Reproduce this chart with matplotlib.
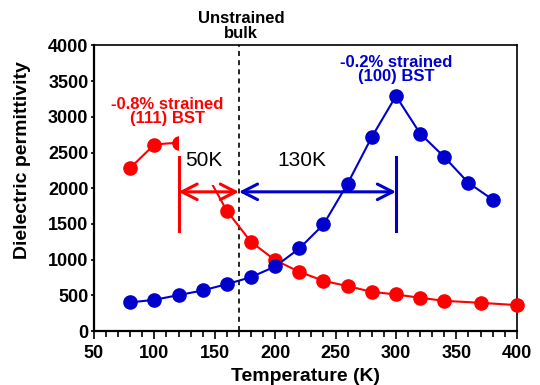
import matplotlib.pyplot as plt
from matplotlib.patches import Rectangle
from matplotlib.ticker import MultipleLocator

plt.rcParams['font.family'] = ['Liberation Sans', 'DejaVu Sans']

RED = '#ff0000'
BLUE = '#0000cc'

# (111) BST film, -0.8% strain
temp_111 = [80, 100, 120, 140, 160, 180, 200, 220, 240, 260, 280, 300, 320, 340, 370, 400]
eps_111 = [2285, 2612, 2640, 2300, 1683, 1249, 993, 830, 704, 630, 550, 513, 466, 424, 396, 364]

# (100) BST film, -0.2% strain
temp_100 = [80, 100, 120, 140, 160, 180, 200, 220, 240, 260, 280, 300, 320, 340, 360, 380]
eps_100 = [402, 438, 504, 569, 658, 755, 905, 1157, 1493, 2066, 2718, 3292, 2766, 2438, 2075, 1842]

# peak shifts relative to the bulk transition
t_bulk = 170
shift_111 = 50
shift_100 = 130
arrow_y = 1950
bar_lo, bar_hi = 1400, 2440

fig = plt.figure(figsize=(5.4, 3.85), dpi=100)
ax = fig.add_axes([0.174, 0.140, 0.783, 0.742])

ax.plot(temp_111, eps_111, '-o', color=RED, lw=1.5, ms=9.5, clip_on=False, zorder=3)
ax.plot(temp_100, eps_100, '-o', color=BLUE, lw=1.5, ms=9.5, clip_on=False, zorder=3)

ax.axvline(t_bulk, color='black', ls=(0, (3, 2.5)), lw=1.2, zorder=2)

# white text box that sits over the red curve
ax.add_patch(Rectangle((120.8, 2043), 46, 770, facecolor='white',
                       edgecolor='none', zorder=4))

t_red = t_bulk - shift_111
t_blue = t_bulk + shift_100
arrow_kw = dict(arrowstyle='<->, head_length=0.55, head_width=0.28',
                lw=2.2, mutation_scale=20, shrinkA=0, shrinkB=0)
ax.annotate('', xy=(t_red, arrow_y), xytext=(t_bulk, arrow_y),
            arrowprops=dict(color=RED, **arrow_kw), zorder=6)
ax.annotate('', xy=(t_bulk, arrow_y), xytext=(t_blue, arrow_y),
            arrowprops=dict(color=BLUE, **arrow_kw), zorder=6)
ax.plot([t_red, t_red], [bar_lo, bar_hi], color=RED, lw=2.2, zorder=6)
ax.plot([t_blue, t_blue], [bar_lo, bar_hi], color=BLUE, lw=2.2, zorder=6)

ax.text(140.7, 2392, f'{shift_111}K', fontsize=15, ha='center', va='center', zorder=5)
ax.text(222, 2392, f'{shift_100}K', fontsize=15, ha='center', va='center', zorder=5)

ax.text(111, 3071, '-0.8% strained\n(111) BST', color=RED, fontsize=12,
        fontweight='bold', ha='center', va='center', linespacing=0.95)
ax.text(300, 3665, '-0.2% strained\n(100) BST', color=BLUE, fontsize=12,
        fontweight='bold', ha='center', va='center', linespacing=0.95)
ax.text(t_bulk + 2, 1.068, 'Unstrained\nbulk', transform=ax.get_xaxis_transform(),
        fontsize=12, fontweight='bold', ha='center', va='center', linespacing=1.0)

ax.set_xlim(50, 400)
ax.set_ylim(0, 4000)
ax.xaxis.set_major_locator(MultipleLocator(50))
ax.xaxis.set_minor_locator(MultipleLocator(10))
ax.yaxis.set_major_locator(MultipleLocator(500))

ax.tick_params(axis='x', which='major', direction='out', length=6, width=1.2, pad=4,
               labelsize=13)
ax.tick_params(axis='x', which='minor', direction='out', length=4, width=1.2)
ax.tick_params(axis='y', direction='out', length=2, width=1.2, pad=2, labelsize=13)
for lab in ax.get_xticklabels() + ax.get_yticklabels():
    lab.set_fontweight('bold')

for side in ['left', 'bottom']:
    ax.spines[side].set_linewidth(1.6)
for side in ['top', 'right']:
    ax.spines[side].set_linewidth(1.2)

ax.set_xlabel('Temperature (K)', fontsize=14, fontweight='bold', labelpad=4)
ax.set_ylabel('Dielectric permittivity', fontsize=14, fontweight='bold')
ax.yaxis.set_label_coords(-0.15, 0.6)

fig.savefig('out.png', dpi=100)
